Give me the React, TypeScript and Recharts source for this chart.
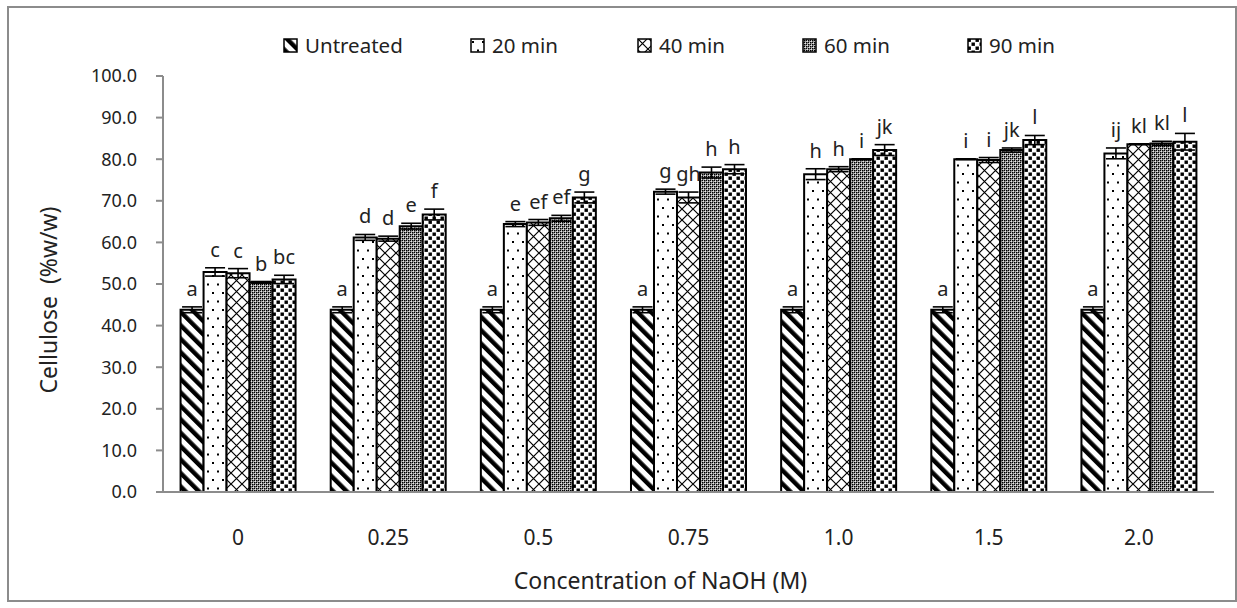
import { BarChart, Bar, XAxis, YAxis, ErrorBar, LabelList, Label } from 'recharts';

const categories = ['0', '0.25', '0.5', '0.75', '1.0', '1.5', '2.0'];

const untreated = [43.8, 43.8, 43.8, 43.8, 43.8, 43.8, 43.8];
const min20 = [52.9, 61.2, 64.4, 72.2, 76.4, 80.0, 81.4];
const min40 = [52.6, 60.9, 64.8, 70.8, 77.6, 79.8, 83.6];
const min60 = [50.4, 63.9, 65.8, 76.8, 80.0, 82.2, 83.8];
const min90 = [51.1, 66.7, 70.8, 77.6, 82.2, 84.6, 84.2];

const errUntreated = [0.7, 0.7, 0.7, 0.7, 0.7, 0.7, 0.7];
const err20 = [1.0, 0.7, 0.6, 0.6, 1.3, 0.1, 1.3];
const err40 = [1.1, 0.6, 0.7, 1.3, 0.6, 0.6, 0.1];
const err60 = [0.2, 0.7, 0.7, 1.3, 0.1, 0.5, 0.5];
const err90 = [1.0, 1.3, 1.3, 1.1, 1.3, 1.1, 2.0];

const lettersUntreated = ['a', 'a', 'a', 'a', 'a', 'a', 'a'];
const letters20 = ['c', 'd', 'e', 'g', 'h', 'i', 'ij'];
const letters40 = ['c', 'd', 'ef', 'gh', 'h', 'i', 'kl'];
const letters60 = ['b', 'e', 'ef', 'h', 'i', 'jk', 'kl'];
const letters90 = ['bc', 'f', 'g', 'h', 'jk', 'l', 'l'];

const yTicks = [0, 10, 20, 30, 40, 50, 60, 70, 80, 90, 100];

const FONT = '"Noto Sans", "Open Sans", sans-serif';
const TEXT = '#222';

const series = [
  { key: 'untreated', name: 'Untreated', values: untreated, errs: errUntreated, letters: lettersUntreated, fill: 'url(#pUntreated)' },
  { key: 'min20', name: '20 min', values: min20, errs: err20, letters: letters20, fill: 'url(#p20)' },
  { key: 'min40', name: '40 min', values: min40, errs: err40, letters: letters40, fill: 'url(#p40)' },
  { key: 'min60', name: '60 min', values: min60, errs: err60, letters: letters60, fill: 'url(#p60)' },
  { key: 'min90', name: '90 min', values: min90, errs: err90, letters: letters90, fill: 'url(#p90)' },
];

const chartData = categories.map((c, i) => {
  const row: any = { name: c };
  series.forEach((s) => {
    row[s.key] = s.values[i];
    row[s.key + 'Err'] = s.errs[i];
    row[s.key + 'Let'] = s.letters[i];
  });
  return row;
});

// letter sits just above the error bar cap
const letterContent = (values: number[], errs: number[]) => (props: any) => {
  const vb = props.viewBox || {};
  const x = props.x ?? vb.x;
  const y = props.y ?? vb.y;
  const width = props.width ?? vb.width;
  const height = props.height ?? vb.height;
  const i = props.index;
  if (i == null || !height) return null;
  const pxPer = height / values[i];
  const top = y - errs[i] * pxPer;
  return (
    <text x={x + width / 2} y={top - 11} textAnchor="middle" fontSize={20} fontFamily={FONT} fill={TEXT}>
      {props.value}
    </text>
  );
};

const xTitle = (props: any) => {
  const vb = props.viewBox;
  return (
    <text x={vb.x + vb.width / 2 - 28} y={vb.y + vb.height - 3} textAnchor="middle" fontSize={23} fontFamily={FONT} fill={TEXT}>
      Concentration of NaOH (M)
    </text>
  );
};

const yTitle = (props: any) => {
  const vb = props.viewBox;
  const cx = vb.x + 35;
  const cy = vb.y + vb.height / 2 + 16;
  return (
    <text
      x={cx}
      y={cy}
      transform={`rotate(-90 ${cx} ${cy})`}
      textAnchor="middle"
      dominantBaseline="central"
      fontSize={23}
      fontFamily={FONT}
      fill={TEXT}
      style={{ whiteSpace: 'pre' }}
    >
      {'Cellulose\u00a0 (%w/w)'}
    </text>
  );
};

const Patterns = () => (
  <svg width={0} height={0} style={{ position: 'absolute' }}>
    <defs>
      <pattern id="pUntreated" patternUnits="userSpaceOnUse" width={9.5} height={9.5} patternTransform="rotate(-45)">
        <rect width={9.5} height={9.5} fill="#fff" />
        <rect x={0} y={0} width={4.4} height={9.5} fill="#000" />
      </pattern>
      <pattern id="p20" patternUnits="userSpaceOnUse" width={10} height={17}>
        <rect width={10} height={17} fill="#fff" />
        <rect x={2} y={3} width={2} height={2} fill="#000" />
        <rect x={7} y={11.5} width={2} height={2} fill="#000" />
      </pattern>
      <pattern id="p40" patternUnits="userSpaceOnUse" width={11} height={11}>
        <rect width={11} height={11} fill="#fff" />
        <path d="M0,0 L11,11 M11,0 L0,11" stroke="#000" strokeWidth={1.2} />
      </pattern>
      <pattern id="p60" patternUnits="userSpaceOnUse" width={4} height={4}>
        <rect width={4} height={4} fill="#fff" />
        <rect x={0} y={0} width={1.6} height={1.6} fill="#000" />
        <rect x={2} y={2} width={1.6} height={1.6} fill="#000" />
        <rect x={2} y={0} width={1.3} height={1.3} fill="#000" />
        <rect x={0} y={2} width={1.3} height={1.3} fill="#000" />
      </pattern>
      <pattern id="p90" patternUnits="userSpaceOnUse" width={8} height={8}>
        <rect width={8} height={8} fill="#fff" />
        <rect x={0.5} y={0.5} width={3.4} height={3.4} fill="#000" />
        <rect x={4.5} y={4.5} width={3.4} height={3.4} fill="#000" />
      </pattern>
    </defs>
  </svg>
);

const legendWidths = [187, 167, 165, 165, 120];

const ChartLegend = () => (
  <div style={{ position: 'absolute', left: 283, top: 33, display: 'flex', fontFamily: FONT, fontSize: 20.5, color: TEXT }}>
    {series.map((s, i) => (
      <div key={s.key} style={{ width: legendWidths[i], display: 'flex', alignItems: 'center', height: 24 }}>
        <svg width={15} height={15} style={{ marginRight: 7 }}>
          <rect x={1} y={1} width={13} height={13} fill={s.fill} stroke="#000" strokeWidth={1.5} />
        </svg>
        <span>{s.name}</span>
      </div>
    ))}
  </div>
);

export default function App() {
  return (
    <div style={{ position: 'absolute', left: 0, top: 0, width: 1237, height: 608, background: '#fff' }}>
      <Patterns />
      <div style={{ position: 'absolute', left: 7, top: 6, width: 1226, height: 592, border: '2px solid #8c8c8c' }} />
      <ChartLegend />
      <div style={{ position: 'absolute', left: 0, top: 0 }}>
        <BarChart
          width={1237}
          height={608}
          data={chartData}
          margin={{ top: 76, right: 23, left: 13, bottom: 16 }}
          barCategoryGap="11.7%"
          barGap={0}
        >
          <XAxis
            dataKey="name"
            height={100}
            tickLine={false}
            tickSize={0}
            tickMargin={38}
            stroke="#8c8c8c"
            strokeWidth={2}
            tick={{ fontSize: 21, fontFamily: FONT, fill: TEXT }}
          >
            <Label content={xTitle} />
          </XAxis>
          <YAxis
            width={150}
            domain={[0, 100]}
            ticks={yTicks}
            interval={0}
            tickFormatter={(v: number) => v.toFixed(1)}
            tickSize={7}
            tickMargin={19}
            stroke="#8c8c8c"
            strokeWidth={2}
            tick={{ fontSize: 18, fontFamily: FONT, fill: TEXT }}
          >
            <Label content={yTitle} />
          </YAxis>
          {series.map((s) => (
            <Bar key={s.key} dataKey={s.key} name={s.name} fill={s.fill} stroke="#000" strokeWidth={2} isAnimationActive={false}>
              <ErrorBar dataKey={s.key + 'Err'} width={10} stroke="#000" strokeWidth={1.6} direction="y" />
              <LabelList dataKey={s.key + 'Let'} content={letterContent(s.values, s.errs)} />
            </Bar>
          ))}
        </BarChart>
      </div>
    </div>
  );
}
